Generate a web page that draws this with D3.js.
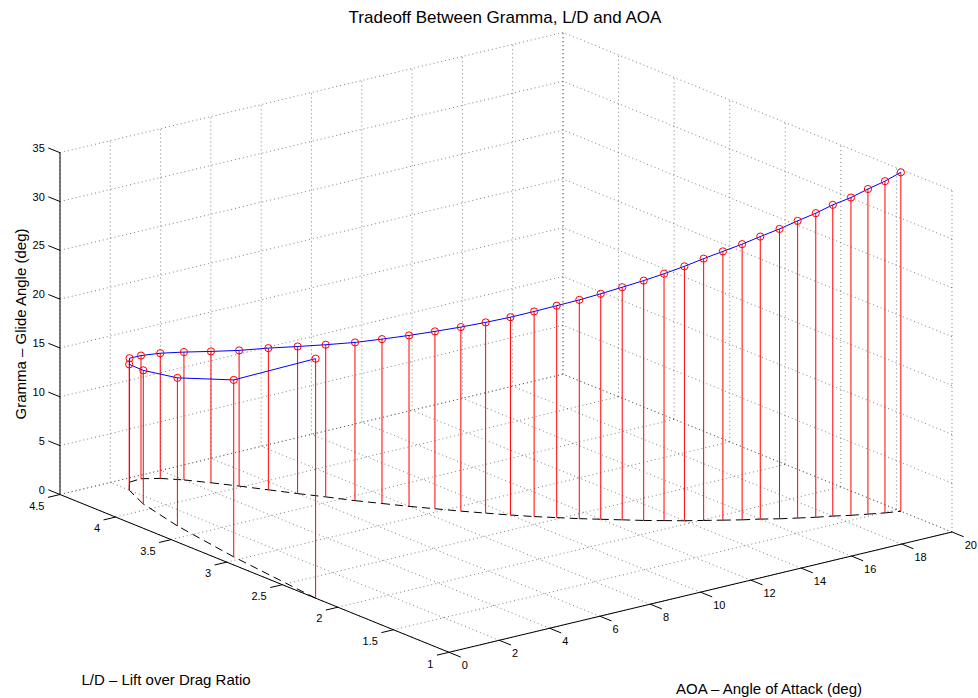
<!DOCTYPE html>
<html>
<head>
<meta charset="utf-8">
<script src="https://cdn.jsdelivr.net/npm/d3@7"></script>
<style>
  body { margin: 0; background: #fff; }
  text { font-family: "Liberation Sans", Arial, Helvetica, sans-serif; fill: #000; }
</style>
</head>
<body>
<svg id="chart" width="978" height="698"></svg>
<script>
// Angle of attack (deg) for each sample
const aoa = [0, 0.5, 1, 1.5, 2, 2.5, 3, 3.5, 4, 4.5, 5, 5.5, 6, 6.5, 7, 7.5, 8, 8.5, 9, 9.5,
             10, 10.5, 11, 11.5, 12, 12.5, 13, 13.5, 14, 14.5, 15, 15.5, 16, 16.5, 17, 17.5,
             18, 18.5, 19, 19.5, 20];
// Lift over drag ratio at each angle of attack
const liftDrag = [2.20, 3.05, 3.67, 4.09, 4.33, 4.44, 4.45, 4.39, 4.29, 4.16, 4.02, 3.87, 3.72,
                  3.58, 3.43, 3.30, 3.17, 3.05, 2.93, 2.82, 2.71, 2.61, 2.52, 2.43, 2.35, 2.27,
                  2.19, 2.12, 2.05, 1.99, 1.93, 1.87, 1.82, 1.76, 1.71, 1.66, 1.62, 1.57, 1.53,
                  1.49, 1.46];
// Glide angle (deg)
const gamma = [24.53, 18.12, 15.16, 13.68, 12.88, 12.69, 12.61, 12.82, 13.09, 13.45, 13.89,
               14.51, 15.06, 15.58, 16.20, 16.83, 17.50, 18.16, 18.85, 19.53, 20.26, 21.00,
               21.70, 22.40, 23.09, 23.82, 24.56, 25.28, 26.05, 26.81, 27.52, 28.23, 28.93,
               29.68, 30.43, 31.14, 31.87, 32.54, 33.29, 33.97, 34.71];

const aoaTicks = [0, 2, 4, 6, 8, 10, 12, 14, 16, 18, 20];
const ldTicks = [1, 1.5, 2, 2.5, 3, 3.5, 4, 4.5];
const gammaTicks = [0, 5, 10, 15, 20, 25, 30, 35];

const titleText = "Tradeoff Between Gramma, L/D and AOA";
const aoaLabel = "AOA \u2013 Angle of Attack (deg)";
const ldLabel = "L/D \u2013 Lift over Drag Ratio";
const gammaLabel = "Gramma \u2013 Glide Angle (deg)";

const svg = d3.select("#chart");
svg.append("rect").attr("width", 978).attr("height", 698).attr("fill", "#fff");

// Axis limits mapped to the unit cube
const sx = d3.scaleLinear().domain([0, 20]).range([0, 1]);
const sy = d3.scaleLinear().domain([1, 4.5]).range([0, 1]);
const sz = d3.scaleLinear().domain([0, 35]).range([0, 1]);

// Orthographic view: screen position of the (AOA min, L/D min, 0) corner and
// the screen vectors spanned by each full axis.
const origin = [449, 652.3];
const axX = [503, -120.3];
const axY = [-389, -157.8];
const axZ = [0, -341.8];

function P(a, l, g) {
  const u = sx(a), v = sy(l), w = sz(g);
  return [origin[0] + u * axX[0] + v * axY[0] + w * axZ[0],
          origin[1] + u * axX[1] + v * axY[1] + w * axZ[1]];
}
function unit(v, len) {
  const n = Math.hypot(v[0], v[1]);
  return [v[0] / n * len, v[1] / n * len];
}

// ---- grid on the floor and the two back walls ----
const gridSegs = [];
aoaTicks.forEach(a => {
  gridSegs.push([P(a, 1, 0), P(a, 4.5, 0)]);
  gridSegs.push([P(a, 4.5, 0), P(a, 4.5, 35)]);
});
ldTicks.forEach(l => {
  gridSegs.push([P(0, l, 0), P(20, l, 0)]);
  gridSegs.push([P(20, l, 0), P(20, l, 35)]);
});
gammaTicks.forEach(g => {
  gridSegs.push([P(0, 4.5, g), P(20, 4.5, g)]);
  gridSegs.push([P(20, 1, g), P(20, 4.5, g)]);
});
svg.append("g").attr("class", "grid")
  .selectAll("line").data(gridSegs).join("line")
  .attr("x1", d => d[0][0]).attr("y1", d => d[0][1])
  .attr("x2", d => d[1][0]).attr("y2", d => d[1][1])
  .attr("stroke", "#333").attr("stroke-opacity", 0.7)
  .attr("stroke-width", 0.9).attr("stroke-dasharray", "1,3");

// ---- axis lines ----
const axes = svg.append("g").attr("class", "axes");
const axisSegs = [
  [P(0, 4.5, 0), P(0, 4.5, 35)],
  [P(0, 1, 0), P(0, 4.5, 0)],
  [P(0, 1, 0), P(20, 1, 0)]
];
axes.selectAll("line.axis").data(axisSegs).join("line").attr("class", "axis")
  .attr("x1", d => d[0][0]).attr("y1", d => d[0][1])
  .attr("x2", d => d[1][0]).attr("y2", d => d[1][1])
  .attr("stroke", "#000").attr("stroke-width", 1);

const tickFont = 11;
// gamma ticks point back along +L/D
const tz = unit(axY, 12.6);
gammaTicks.forEach(g => {
  const p = P(0, 4.5, g), q = [p[0] + tz[0], p[1] + tz[1]];
  axes.append("line").attr("x1", p[0]).attr("y1", p[1]).attr("x2", q[0]).attr("y2", q[1])
    .attr("stroke", "#000");
  axes.append("text").attr("x", q[0] - 3.5).attr("y", q[1]).attr("dy", "0.35em")
    .attr("text-anchor", "end").attr("font-size", tickFont).text(d3.format("")(g));
});
// L/D ticks point along -AOA
const tl = unit([-axX[0], -axX[1]], 12.4);
ldTicks.forEach(l => {
  const p = P(0, l, 0), q = [p[0] + tl[0], p[1] + tl[1]];
  axes.append("line").attr("x1", p[0]).attr("y1", p[1]).attr("x2", q[0]).attr("y2", q[1])
    .attr("stroke", "#000");
  axes.append("text").attr("x", q[0] - 3.5).attr("y", q[1] + 8.5).attr("dy", "0.35em")
    .attr("text-anchor", "end").attr("font-size", tickFont).text(d3.format("")(l));
});
// AOA ticks point along -L/D
const ta = unit([-axY[0], -axY[1]], 12.6);
aoaTicks.forEach(a => {
  const p = P(a, 1, 0), q = [p[0] + ta[0], p[1] + ta[1]];
  axes.append("line").attr("x1", p[0]).attr("y1", p[1]).attr("x2", q[0]).attr("y2", q[1])
    .attr("stroke", "#000");
  axes.append("text").attr("x", q[0] + 1).attr("y", q[1] + 8).attr("dy", "0.35em")
    .attr("text-anchor", "start").attr("font-size", tickFont).text(d3.format("")(a));
});

// ---- data ----
const pts = aoa.map((a, i) => ({ a, l: liftDrag[i], g: gamma[i] }));
const data = svg.append("g").attr("class", "data");

// projection of the curve onto the floor, dashed
for (let i = 0; i < pts.length - 1; i++) {
  const p = P(pts[i].a, pts[i].l, 0), q = P(pts[i + 1].a, pts[i + 1].l, 0);
  data.append("line").attr("x1", p[0]).attr("y1", p[1]).attr("x2", q[0]).attr("y2", q[1])
    .attr("stroke", "#000").attr("stroke-width", 1).attr("stroke-dasharray", "8,5");
}

// stems
data.selectAll("line.stem").data(pts).join("line").attr("class", "stem")
  .attr("x1", d => P(d.a, d.l, 0)[0]).attr("y1", d => P(d.a, d.l, 0)[1])
  .attr("x2", d => P(d.a, d.l, d.g)[0]).attr("y2", d => P(d.a, d.l, d.g)[1])
  .attr("stroke", "#ff0000").attr("stroke-width", 1);

// curve through the samples
const line = d3.line().x(d => P(d.a, d.l, d.g)[0]).y(d => P(d.a, d.l, d.g)[1]);
data.append("path").datum(pts).attr("d", line)
  .attr("fill", "none").attr("stroke", "#0000ff").attr("stroke-width", 1);

// markers
data.selectAll("circle").data(pts).join("circle")
  .attr("cx", d => P(d.a, d.l, d.g)[0]).attr("cy", d => P(d.a, d.l, d.g)[1])
  .attr("r", 3.6).attr("fill", "none").attr("stroke", "#ff0000").attr("stroke-width", 1);

// ---- titles ----
svg.append("text").attr("x", 505).attr("y", 23).attr("text-anchor", "middle")
  .attr("font-size", 17).text(titleText);
svg.append("text").attr("x", 166).attr("y", 685).attr("text-anchor", "middle")
  .attr("font-size", 15).text(ldLabel);
svg.append("text").attr("x", 769).attr("y", 694).attr("text-anchor", "middle")
  .attr("font-size", 15).text(aoaLabel);
svg.append("text").attr("transform", "translate(26,324) rotate(-90)")
  .attr("text-anchor", "middle").attr("font-size", 15).text(gammaLabel);
</script>
</body>
</html>
